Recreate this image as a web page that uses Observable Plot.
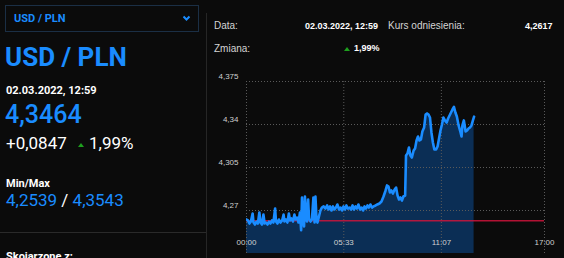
<!DOCTYPE html>
<html>
<head>
<meta charset="utf-8">
<script src="https://cdn.jsdelivr.net/npm/d3@7"></script>
<script src="https://cdn.jsdelivr.net/npm/@observablehq/plot@0.6"></script>
<style>
  html, body { margin: 0; padding: 0; background: #0b0b0b; }
  #page { position: relative; width: 564px; height: 258px; overflow: hidden; background: #0b0b0b; font-family: Roboto, "Noto Sans", sans-serif; }
  .abs { position: absolute; white-space: nowrap; line-height: 1; }
  .blue { color: #1a8cff; }
  .white { color: #ffffff; }
  .hdr { font-family: "Liberation Sans", Arial, sans-serif; font-size: 10px; color: #d4d4d4; }
  .hdrv { font-family: "Liberation Sans", Arial, sans-serif; font-size: 9px; font-weight: bold; color: #ffffff; }
  .tri { display: inline-block; width: 0; height: 0; border-left: 3.5px solid transparent; border-right: 3.5px solid transparent; border-bottom: 4px solid #1ea01e; }
</style>
</head>
<body>
<div id="page">
  <!-- dropdown -->
  <div class="abs" style="left:5px;top:5px;width:192px;height:25px;border:1px solid #1b2f45;"></div>
  <div class="abs blue" style="left:14px;top:13px;font-size:11px;font-weight:bold;">USD / PLN</div>
  <svg class="abs" style="left:182px;top:15px;" width="9" height="7"><polyline points="1.5,1.5 4.5,4.5 7.5,1.5" fill="none" stroke="#1a8cff" stroke-width="2"/></svg>

  <div class="abs blue" style="left:5px;top:43.6px;font-size:26px;font-weight:bold;">USD / PLN</div>
  <div class="abs white" style="left:6px;top:84.6px;font-size:11px;font-weight:bold;">02.03.2022, 12:59</div>
  <div class="abs blue" style="left:5px;top:101.7px;font-size:25px;font-weight:500;">4,3464</div>
  <div class="abs white" style="left:6px;top:134.5px;font-size:17px;">+0,0847</div>
  <span class="abs tri" style="left:78px;top:142.5px;"></span>
  <div class="abs white" style="left:89px;top:134.5px;font-size:17px;">1,99%</div>
  <div class="abs white" style="left:6px;top:177.9px;font-size:11px;font-weight:bold;">Min/Max</div>
  <div class="abs" style="left:6px;top:192.1px;font-size:17px;"><span class="blue">4,2539</span><span class="white"> / </span><span class="blue">4,3543</span></div>
  <div class="abs" style="left:0;top:232px;width:207px;height:1px;background:#2a2a2a;"></div>
  <div class="abs white" style="left:6px;top:250.6px;font-size:11px;font-weight:bold;">Skojarzone z:</div>

  <!-- vertical separator -->
  <div class="abs" style="left:206px;top:13px;width:1px;height:245px;background:#262626;"></div>

  <!-- header -->
  <div class="abs hdr" style="left:214px;top:21.4px;">Data:</div>
  <div class="abs hdrv" style="left:305px;top:21.6px;">02.03.2022, 12:59</div>
  <div class="abs hdr" style="left:388px;top:21.4px;">Kurs odniesienia:</div>
  <div class="abs hdrv" style="left:525px;top:21.6px;">4,2617</div>
  <div class="abs hdr" style="left:214px;top:44px;">Zmiana:</div>
  <span class="abs tri" style="left:343.5px;top:46.5px;"></span>
  <div class="abs hdrv" style="left:354px;top:44.2px;">1,99%</div>

  <div id="chart" class="abs" style="left:200px;top:60px;"></div>
</div>
<script>
const times = ["00:00","00:05","00:10","00:15","00:21","00:24","00:29","00:34","00:39","00:44","00:48","00:53","00:58","01:02","01:07","01:12","01:17","01:22","01:27","01:32","01:38","01:41","01:46","01:51","01:56","02:02","02:07","02:10","02:15","02:20","02:25","02:29","02:34","02:39","02:44","02:48","02:53","02:58","03:03","03:07","03:10","03:13","03:17","03:20","03:24","03:27","03:31","03:34","03:39","03:44","03:49","03:53","03:56","04:00","04:03","04:08","04:13","04:18","04:24","04:30","04:36","04:41","04:46","04:51","04:56","05:01","05:06","05:11","05:17","05:22","05:27","05:32","05:37","05:42","05:47","05:53","05:58","06:03","06:08","06:13","06:18","06:23","06:29","06:34","06:39","06:44","06:49","06:54","06:59","07:04","07:10","07:15","07:22","07:28","07:35","07:42","07:49","07:56","08:01","08:06","08:11","08:16","08:21","08:27","08:32","08:37","08:42","08:47","08:52","08:57","09:03","09:06","09:11","09:16","09:21","09:26","09:32","09:37","09:42","09:47","09:52","09:57","10:02","10:08","10:13","10:18","10:23","10:28","10:33","10:38","10:43","10:49","10:54","10:59","11:04","11:09","11:14","11:19","11:25","11:30","11:35","11:40","11:45","11:50","11:55","12:00","12:06","12:11","12:16","12:19","12:24","12:30","12:35","12:40","12:45","12:50","12:55","12:59"];
const rates = [4.2627,4.2619,4.2594,4.2610,4.2676,4.2602,4.2586,4.2610,4.2594,4.2684,4.2602,4.2586,4.2667,4.2594,4.2602,4.2586,4.2610,4.2594,4.2619,4.2602,4.2716,4.2610,4.2594,4.2627,4.2602,4.2619,4.2667,4.2610,4.2627,4.2602,4.2676,4.2619,4.2635,4.2610,4.2667,4.2627,4.2643,4.2602,4.2684,4.2539,4.2806,4.2635,4.2570,4.2814,4.2659,4.2610,4.2790,4.2635,4.2610,4.2627,4.2806,4.2602,4.2814,4.2619,4.2602,4.2651,4.2700,4.2724,4.2733,4.2716,4.2741,4.2708,4.2733,4.2700,4.2733,4.2708,4.2724,4.2749,4.2708,4.2724,4.2700,4.2733,4.2708,4.2741,4.2716,4.2724,4.2708,4.2741,4.2708,4.2733,4.2716,4.2749,4.2708,4.2724,4.2700,4.2733,4.2716,4.2741,4.2724,4.2749,4.2724,4.2733,4.2741,4.2749,4.2757,4.2773,4.2814,4.2863,4.2904,4.2895,4.2847,4.2863,4.2838,4.2871,4.2887,4.2822,4.2790,4.2806,4.2781,4.2814,4.2822,4.3148,4.3164,4.3213,4.3148,4.3131,4.3188,4.3205,4.3270,4.3302,4.3270,4.3278,4.3343,4.3376,4.3481,4.3490,4.3481,4.3457,4.3335,4.3254,4.3197,4.3197,4.3221,4.3286,4.3351,4.3400,4.3457,4.3433,4.3416,4.3449,4.3473,4.3498,4.3522,4.3543,4.3498,4.3465,4.3392,4.3351,4.3302,4.3392,4.3433,4.3343,4.3351,4.3367,4.3376,4.3392,4.3433,4.3464];
const refRate = 4.2617;
const dayRange = ["00:00", "17:00"];
const yRange = [4.235, 4.375];
const xTicks = ["00:00", "05:33", "11:07", "17:00"];
const xTickLabels = ["00:00", "05:33", "11:07", "17:00"];
const yTicks = [4.27, 4.305, 4.34, 4.375];
const yTickLabels = ["4,27", "4,305", "4,34", "4,375"];

const parse = d3.utcParse("%H:%M");
const data = times.map((t, i) => ({date: parse(t), rate: rates[i]}));
const xTickDates = xTicks.map(parse);

const chart = Plot.plot({
  width: 364,
  height: 198,
  marginLeft: 46,
  marginRight: 20,
  marginTop: 21,
  marginBottom: 5,
  style: {background: "transparent", color: "#cccccc", fontSize: "8px", fontFamily: "'Liberation Sans', Arial, sans-serif"},
  x: {type: "utc", domain: dayRange.map(parse), axis: null},
  y: {domain: yRange, axis: null},
  marks: [
    Plot.areaY(data, {x: "date", y: "rate", fill: "#0b2e55", clip: true}),
    Plot.gridX(xTickDates, {stroke: "#5a5a5a", strokeOpacity: 1, strokeDasharray: "1,2"}),
    Plot.gridY(yTicks, {stroke: "#5a5a5a", strokeOpacity: 1, strokeDasharray: "1,2"}),
    Plot.ruleY([refRate], {stroke: "#d0143c", strokeWidth: 1.5, strokeOpacity: 0.85}),
    Plot.lineY(data, {x: "date", y: "rate", stroke: "#1a8cff", strokeWidth: 2.6, strokeLinejoin: "round", clip: true}),
    Plot.axisY(yTicks, {tickSize: 0, tickPadding: 8, dy: -5, fill: "#d0d0d0", label: null, tickFormat: d => yTickLabels[yTicks.indexOf(d)]}),
    Plot.text(xTickDates, {x: d => d, frameAnchor: "bottom", dy: -8.5, fill: "#d0d0d0", text: (d, i) => xTickLabels[i]})
  ]
});
document.getElementById("chart").appendChild(chart);
</script>
</body>
</html>
